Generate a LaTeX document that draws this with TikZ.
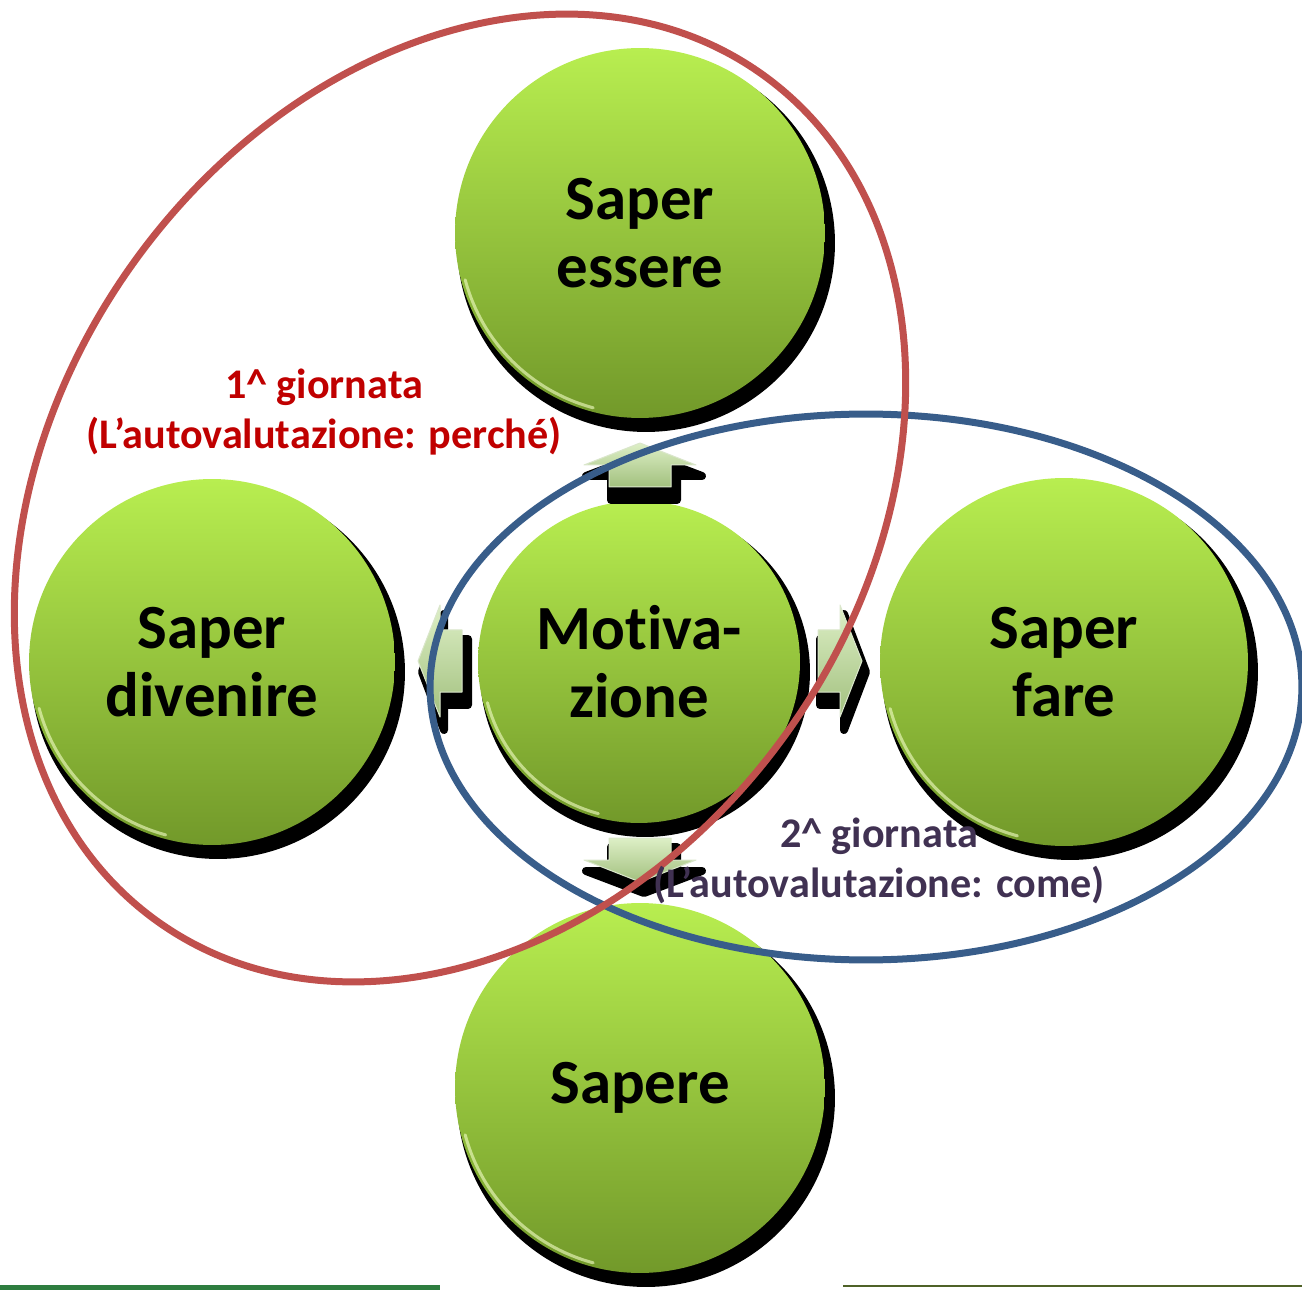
\documentclass[tikz,border=0pt]{standalone}
\usepackage{fontspec}
\setmainfont{Carlito}[Ligatures={NoCommon}]
\definecolor{gtop}{HTML}{B8EE50}
\definecolor{gbot}{HTML}{72992A}
\definecolor{atop}{HTML}{DDEFC6}
\definecolor{abot}{HTML}{A2C07E}
\definecolor{ered}{HTML}{C0504D}
\definecolor{eblue}{HTML}{385D8A}
\definecolor{tred}{HTML}{C00000}
\definecolor{tpurple}{HTML}{403152}
\definecolor{lgreen}{HTML}{2E7D3F}
\definecolor{lolive}{HTML}{4F6228}
\definecolor{hilite}{HTML}{F4FFC8}
\begin{document}
\begin{tikzpicture}[x=0.02cm,y=-0.02cm,
  ball/.style={circle, inner sep=0pt, top color=gtop, bottom color=gbot, align=center,
    font=\bfseries\fontsize{35.8}{38.7}\selectfont, text=black},
  ballshadow/.style={fill=black},
  rim/.style={draw=hilite, line width=0.06cm, opacity=0.6, line cap=round},
  arrowbody/.style={top color=atop, bottom color=abot, draw=white!60!abot, line width=0.02cm, line join=round},
  arrowshadow/.style={fill=black, draw=black, line width=0.16cm, line join=round},
  ring/.style={line width=0.14cm},
  lab/.style={align=center, font=\bfseries\fontsize{24}{28.4}\selectfont}
]
\useasboundingbox (0,0) rectangle (1302,1290);
\clip (0,0) rectangle (1302,1290);

% circle shadows
\fill[ballshadow] (646,243) circle[radius=3.78cm];
\fill[ballshadow] (218,672) circle[radius=3.74cm];
\fill[ballshadow] (645,672) circle[radius=3.3cm];
\fill[ballshadow] (1070,672) circle[radius=3.76cm];
\fill[ballshadow] (646,1098) circle[radius=3.78cm];

% circles
\node[ball, minimum size=7.4cm] (se) at (640,233) {Saper\\essere};
\node[ball, minimum size=7.32cm] (sd) at (212,662) {Saper\\divenire};
\node[ball, minimum size=6.44cm] (mo) at (639,662) {Motiva-\\zione};
\node[ball, minimum size=7.36cm] (sf) at (1064,662) {Saper\\fare};
\node[ball, minimum size=7.4cm] (sa) at (640,1088) {Sapere};

% rim highlights
\foreach \c/\r in {se/3.62, sd/3.58, mo/3.14, sf/3.6, sa/3.62}{
  \draw[rim] ([shift={(195:\r cm)}]\c.center) arc[start angle=195, end angle=255, radius=\r cm];
}

% arrows
\foreach \px/\py/\ang in {640/465/0, 440/661/90, 840/661/-90, 640/860/180}{
  \begin{scope}[shift={(\px+4,\py+11)}, rotate=\ang]
    \path[arrowshadow] (0,-22) -- (58,0) -- (33,0) -- (33,24) -- (-33,24) -- (-33,0) -- (-58,0) -- cycle;
  \end{scope}
  \begin{scope}[shift={(\px,\py)}, rotate=\ang]
    \path[arrowbody] (0,-22) -- (56,0) -- (31,0) -- (31,22) -- (-31,22) -- (-31,0) -- (-56,0) -- cycle;
  \end{scope}
}

% ellipses
\draw[ring, eblue] (866,687) ellipse[x radius=8.72cm, y radius=5.46cm];
\draw[ring, ered, rotate around={54.5:(460,498)}] (460,498) ellipse[x radius=10.41cm, y radius=8.05cm];

% bottom lines
\draw[lgreen, line width=0.1cm] (0,1287) -- (440,1287);
\draw[lolive, line width=0.05cm] (843,1286) -- (1302,1286);

% labels
\node[lab, text=tred] (l1) at (324,412) {1\textasciicircum{} giornata\\(L’autovalutazione: perché)};
\node[lab, text=tpurple] (l2) at (879,861) {2\textasciicircum{} giornata\\(L’autovalutazione: come)};
\end{tikzpicture}
\end{document}
